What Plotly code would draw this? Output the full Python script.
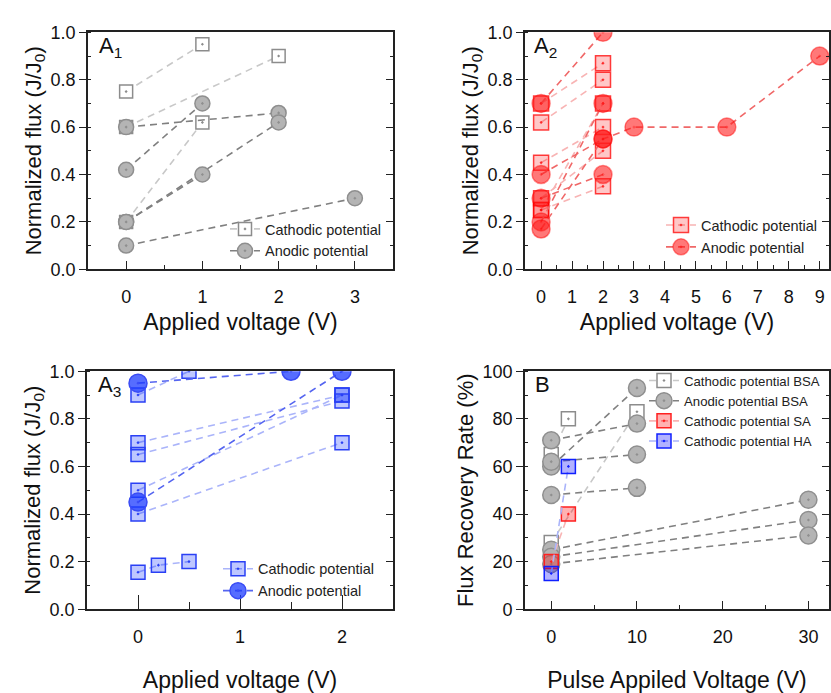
import plotly.graph_objects as go

# ---------------- data ----------------
# Panel A1 (segments: x list, y list)
a1_cath = [([0, 1], [0.75, 0.95]), ([0, 2], [0.60, 0.90]), ([0, 1], [0.20, 0.62])]
a1_anod = [([0, 2], [0.60, 0.66]), ([0, 1], [0.42, 0.70]), ([0, 1], [0.20, 0.40]),
           ([0, 2], [0.20, 0.62]), ([0, 3], [0.10, 0.30])]
# Panel A2
a2_cath = [([0, 2], [0.70, 0.87]), ([0, 2], [0.62, 0.80]), ([0, 2], [0.45, 0.60]),
           ([0, 2], [0.30, 0.50]), ([0, 2], [0.25, 0.70]), ([0, 2], [0.25, 0.35])]
a2_anod = [([0, 2], [0.70, 1.00]), ([0, 2], [0.40, 0.55]), ([0, 2], [0.30, 0.40]),
           ([0, 2], [0.20, 0.70]), ([0, 2, 3, 6, 9], [0.17, 0.55, 0.60, 0.60, 0.90])]
# Panel A3
a3_cath = [([0, 0.5], [0.90, 1.00]), ([0, 2], [0.70, 0.90]), ([0, 2], [0.65, 0.875]),
           ([0, 2], [0.50, 0.90]), ([0, 2], [0.40, 0.70]), ([0, 0.2, 0.5], [0.155, 0.185, 0.20])]
a3_anod = [([0, 1.5], [0.95, 1.00]), ([0, 2], [0.45, 1.00])]
# Panel B
b_cath_bsa = [([0, 2], [65, 80]), ([0, 10], [28, 83])]
b_anod_bsa = [([0, 10], [71, 78]), ([0, 10], [60, 93]), ([0, 10], [62, 65]), ([0, 10], [48, 51]),
              ([0, 30], [25, 46]), ([0, 30], [22, 37.5]), ([0, 30], [19, 31])]
b_cath_sa = [([0, 2], [20, 40])]
b_cath_ha = [([0, 2], [15, 60])]

a_yticks = [0.0, 0.2, 0.4, 0.6, 0.8, 1.0]
b_yticks = [0, 20, 40, 60, 80, 100]

FONT = "Liberation Sans, Arial, sans-serif"
W, H = 831, 693


def build(segs):
    xs, ys = [], []
    for sx, sy in segs:
        xs += list(sx) + [None]
        ys += list(sy) + [None]
    return xs, ys


def px_x(a, b):
    return [a / W, b / W]


def px_y(top, bottom):
    return [1 - bottom / H, 1 - top / H]


fig = go.Figure()

DASH = "7px,5px"


def add(segs, name, xa, ya, legend, linecolor, symbol, msize, mfill, mline, lw=1.6):
    xs, ys = build(segs)
    fig.add_trace(go.Scatter(
        x=xs, y=ys, name=name, mode="lines+markers", xaxis=xa, yaxis=ya, legend=legend,
        connectgaps=False,
        line=dict(color=linecolor, width=lw, dash=DASH),
        marker=dict(symbol=symbol, size=msize, color=mfill, line=dict(color=mline, width=1.5)),
    ))


# A1
add(a1_cath, "Cathodic potential", "x", "y", "legend", "#c8c8c8", "square-dot", 13, "white", "#8c8c8c")
add(a1_anod, "Anodic potential", "x", "y", "legend", "#808080", "circle-dot", 15, "#b4b4b4", "#8f8f8f")
# A2
add(a2_cath, "Cathodic potential", "x2", "y2", "legend2", "#f8b4b4", "square-dot", 15,
    "rgba(255,0,0,0.22)", "rgba(255,0,0,0.75)")
add(a2_anod, "Anodic potential", "x2", "y2", "legend2", "#f06868", "circle-dot", 18,
    "rgba(255,30,30,0.6)", "rgba(255,0,0,0.45)")
# A3
add(a3_cath, "Cathodic potential", "x3", "y3", "legend3", "#aab4fa", "square-dot", 14,
    "rgba(40,70,255,0.3)", "#2a40f5")
add(a3_anod, "Anodic potential", "x3", "y3", "legend3", "#5565f0", "circle-dot", 18,
    "rgba(30,60,255,0.75)", "#3a4cf5")
# B
add(b_cath_bsa, "Cathodic potential BSA", "x4", "y4", "legend4", "#c8c8c8", "square-dot", 14, "white", "#8c8c8c")
add(b_anod_bsa, "Anodic potential BSA", "x4", "y4", "legend4", "#808080", "circle-dot", 17, "#b4b4b4", "#8f8f8f")
add(b_cath_sa, "Cathodic potential SA", "x4", "y4", "legend4", "#f8b4b4", "square-dot", 14,
    "rgba(255,0,0,0.3)", "#ff2020")
add(b_cath_ha, "Cathodic potential HA", "x4", "y4", "legend4", "#aab4fa", "square-dot", 14,
    "rgba(0,0,255,0.3)", "#1020ff")

AXC = "#222222"
TICKF = dict(family=FONT, size=18, color="#111")
TITLEF = dict(family=FONT, size=23, color="#111")

dom = {
    1: (px_x(88, 393), px_y(23, 267)),
    2: (px_x(525, 829), px_y(23, 267)),
    3: (px_x(87, 393), px_y(372, 617)),
    4: (px_x(525, 829), px_y(372, 617)),
}
xranges = {1: [-0.5, 3.5], 2: [-0.52, 9.3], 3: [-0.5, 2.5], 4: [-3.06, 32.4]}
xdt = {1: 1, 2: 1, 3: 1, 4: 10}
xminor = {1: 0.5, 2: 0.5, 3: 0.5, 4: 5}
xmaj_len = {1: 8, 2: 8, 3: 14, 4: 8}
xstand = {1: 8, 2: 8, 3: 26, 4: 26}
xtitles = {1: "Applied voltage (V)", 2: "Applied voltage (V)", 3: "Applied voltage (V)",
           4: "Pulse Appiled Voltage (V)"}
ytitles = {1: "Normalized flux (J/J<sub>0</sub>)", 2: "Normalized flux (J/J<sub>0</sub>)",
           3: "Normalized flux (J/J<sub>0</sub>)", 4: "Flux Recovery Rate (%)"}

layout = {}
for i in range(1, 5):
    sx = "" if i == 1 else str(i)
    xd, yd = dom[i]
    yr = [0, 1] if i < 4 else [0, 100]
    ytv = a_yticks if i < 4 else b_yticks
    ymin = 0.1 if i < 4 else 10
    layout["xaxis" + sx] = dict(
        domain=xd, anchor="y" + sx, range=xranges[i], dtick=xdt[i], tick0=0,
        showline=True, linecolor=AXC, linewidth=1.6, mirror=True, showgrid=False, zeroline=False,
        ticks="inside", ticklen=xmaj_len[i], tickwidth=1.4, tickcolor=AXC,
        minor=dict(dtick=xminor[i], ticks="inside", ticklen=xmaj_len[i] // 2, tickwidth=1.4,
                   tickcolor=AXC, showgrid=False),
        tickfont=TICKF, ticklabelstandoff=10,
        title=dict(text=xtitles[i], font=TITLEF, standoff=xstand[i]),
    )
    layout["yaxis" + sx] = dict(
        domain=yd, anchor="x" + sx, range=yr, tickvals=ytv,
        tickformat=".1f" if i < 4 else "d",
        showline=True, linecolor=AXC, linewidth=1.6, mirror=True, showgrid=False, zeroline=False,
        ticks="outside", ticklen=7, tickwidth=1.4, tickcolor=AXC,
        minor=dict(dtick=ymin, ticks="inside", ticklen=3, tickwidth=1.4, tickcolor=AXC, showgrid=False),
        tickfont=TICKF,
        title=dict(text=ytitles[i], font=dict(family=FONT, size=22, color="#111"), standoff=3),
    )
    # right-side overlay axis for inward ticks
    j = i + 4
    layout["yaxis" + str(j)] = dict(
        overlaying="y" + sx, side="right", anchor="x" + sx, range=yr, tickvals=ytv,
        showline=False, showgrid=False, zeroline=False, showticklabels=False,
        ticks="inside", ticklen=7, tickwidth=1.4, tickcolor=AXC,
        minor=dict(dtick=ymin, ticks="inside", ticklen=3, tickwidth=1.4, tickcolor=AXC, showgrid=False),
    )


def leg(xpx, ypx, size=14.5):
    return dict(x=xpx / W, y=1 - ypx / H, xanchor="left", yanchor="top", bgcolor="rgba(0,0,0,0)",
                font=dict(family=FONT, size=size, color="#222"), itemwidth=30, tracegroupgap=0)


fig.update_layout(
    width=W, height=H, margin=dict(l=0, r=0, t=0, b=0),
    paper_bgcolor="white", plot_bgcolor="white", showlegend=True,
    font=dict(family=FONT),
    legend=leg(225, 209), legend2=leg(661, 205), legend3=leg(218, 559), legend4=leg(644, 366, 13.2),
    **layout,
)

# dummy traces so overlay axes render
for j in range(5, 9):
    sx = "" if j == 5 else str(j - 4)
    fig.add_trace(go.Scatter(x=[None], y=[None], xaxis="x" + sx, yaxis="y" + str(j),
                             showlegend=False, hoverinfo="skip"))

labels = [("A<sub>1</sub>", 97, 38), ("A<sub>2</sub>", 532, 38), ("A<sub>3</sub>", 96, 387), ("B", 533, 386)]
for t, xp, yp in labels:
    fig.add_annotation(text=t, x=xp / W, y=1 - yp / H, xref="paper", yref="paper",
                       xanchor="left", yanchor="middle", showarrow=False,
                       font=dict(family=FONT, size=22, color="#111"))

fig.write_html("out.html")
